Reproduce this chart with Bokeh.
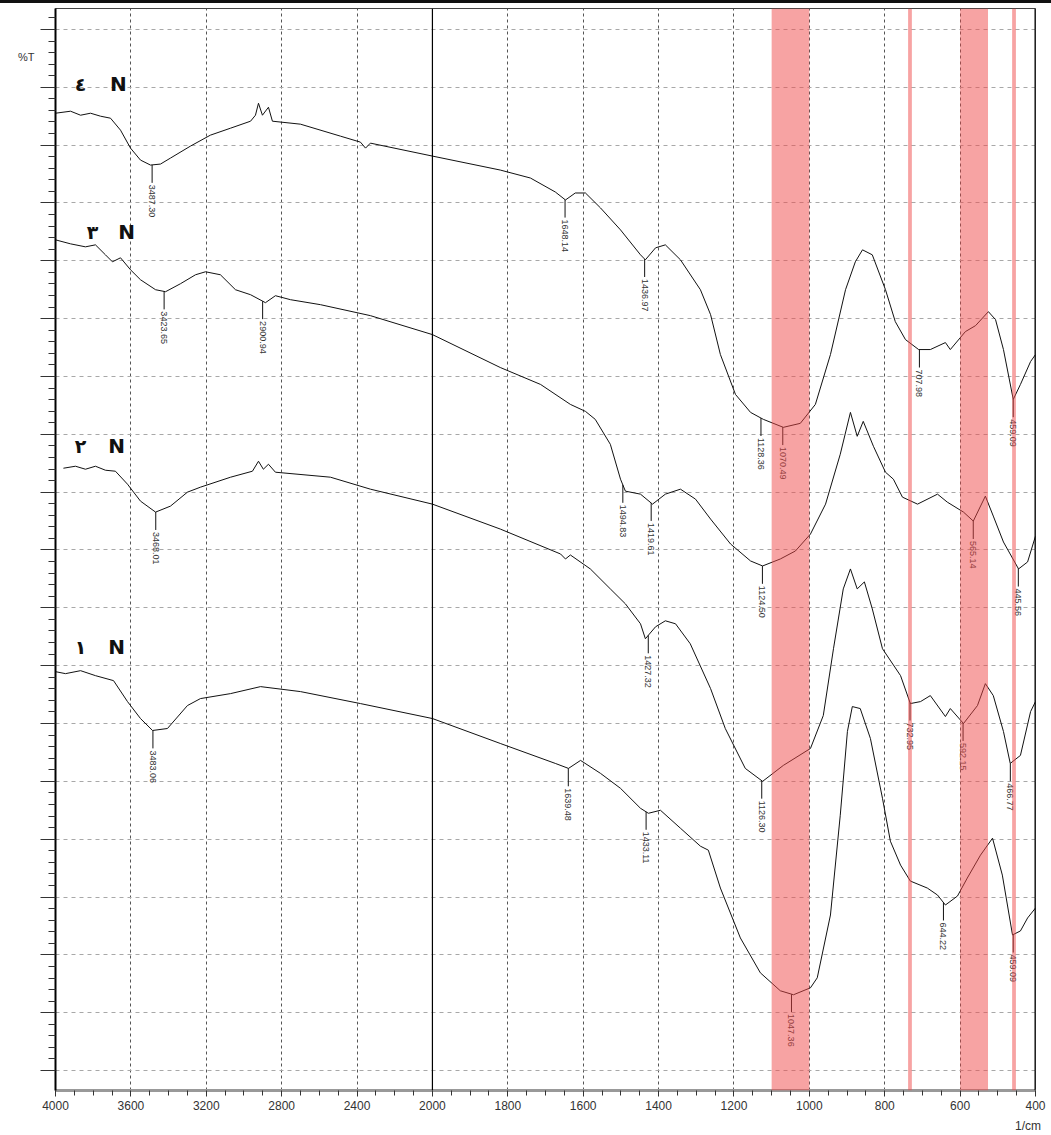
import numpy as np
from bokeh.plotting import figure
from bokeh.models import Range1d, FixedTicker, BoxAnnotation, Span, ColumnDataSource, Div, LinearAxis
from bokeh.layouts import column
from bokeh.embed import file_html
from bokeh.resources import INLINE
from bokeh.core.properties import value

# ---------------- data (wavenumber in 1/cm, %T in arbitrary offset units) ----------------
wn4 = [4000, 3920, 3867, 3814, 3761, 3708, 3655, 3602, 3549, 3496, 3443, 3390, 3284, 3178, 3071, 2965, 2939, 2923,
       2902, 2870, 2849, 2700, 2488, 2382, 2355, 2329, 2000, 1820, 1740, 1674, 1647, 1621, 1594, 1554, 1501, 1448,
       1435, 1408, 1382, 1342, 1289, 1262, 1236, 1196, 1156, 1122, 1069, 1024, 984, 944, 904, 878, 859, 833,
       798, 772, 745, 710, 679, 639, 626, 586, 559, 525, 506, 485, 459, 440, 413, 400]
t4 = [98.0, 98.2, 97.8, 98.0, 97.7, 97.5, 96.3, 94.5, 93.3, 92.8, 92.9, 93.5, 94.7, 95.8, 96.5, 97.2, 97.8, 99.0,
      97.8, 98.6, 97.2, 96.9, 95.7, 95.1, 94.5, 95.0, 93.7, 92.3, 91.5, 90.1, 89.3, 90.0, 90.0, 88.5, 86.3, 83.8,
      83.3, 84.5, 84.8, 83.3, 80.3, 77.8, 73.8, 69.8, 68.0, 67.3, 66.5, 66.9, 68.8, 73.8, 80.3, 83.1, 84.3, 83.8,
      80.3, 77.1, 75.3, 74.3, 74.3, 75.0, 74.3, 76.1, 76.7, 78.1, 77.3, 74.3, 69.3, 70.8, 73.1, 73.8]

wn3 = [4000, 3920, 3841, 3788, 3735, 3698, 3655, 3602, 3549, 3469, 3416, 3337, 3257, 3204, 3125, 3045, 2965, 2886,
       2833, 2753, 2594, 2329, 2000, 1820, 1713, 1634, 1594, 1568, 1528, 1501, 1488, 1448, 1416, 1382, 1342, 1302,
       1262, 1209, 1156, 1124, 1077, 1037, 997, 957, 918, 891, 873, 857, 830, 798, 777, 753, 713, 660,
       634, 591, 565, 533, 512, 485, 445, 421, 400]
t3 = [85.3, 84.9, 84.6, 84.8, 83.8, 83.1, 83.5, 82.3, 81.3, 80.3, 80.1, 80.9, 81.8, 82.1, 81.8, 80.3, 79.8, 79.0,
      79.7, 79.3, 78.8, 77.7, 75.8, 72.5, 70.8, 68.8, 68.1, 67.3, 64.8, 61.3, 60.1, 59.8, 58.8, 59.8, 60.3, 59.3,
      57.3, 54.8, 53.1, 52.6, 53.3, 54.1, 55.8, 58.8, 63.8, 68.0, 65.6, 67.1, 64.6, 62.0, 61.3, 59.5, 58.8, 59.8,
      59.0, 58.0, 57.1, 59.6, 57.6, 55.0, 52.3, 53.0, 55.6]

wn2 = [3958, 3894, 3841, 3788, 3735, 3682, 3618, 3549, 3469, 3390, 3300, 3231, 3071, 2955, 2923, 2897, 2870, 2833,
       2541, 2329, 2000, 1820, 1660, 1647, 1634, 1581, 1528, 1488, 1448, 1435, 1408, 1382, 1355, 1316, 1262, 1223,
       1170, 1124, 1069, 997, 963, 936, 910, 891, 873, 854, 833, 806, 758, 732, 705, 679, 639, 626,
       591, 554, 533, 512, 485, 467, 440, 413, 400]
t2 = [62.4, 62.6, 62.3, 62.6, 62.2, 62.1, 60.8, 59.1, 58.0, 58.6, 60.0, 60.5, 61.5, 62.1, 63.1, 62.3, 62.8, 62.0,
      61.5, 60.3, 58.8, 56.3, 53.8, 53.3, 53.7, 52.3, 50.3, 48.8, 46.8, 45.3, 46.5, 47.1, 46.8, 44.8, 40.3, 36.3,
      32.3, 31.0, 32.6, 34.3, 37.6, 44.3, 50.3, 52.3, 50.3, 51.0, 48.3, 44.3, 41.6, 38.8, 39.0, 39.6, 37.5, 38.3,
      36.8, 38.6, 40.8, 39.6, 36.0, 32.8, 33.6, 38.0, 39.0]

wn1 = [4000, 3947, 3867, 3788, 3692, 3618, 3549, 3485, 3406, 3300, 3231, 3071, 2912, 2700, 2382, 2000, 1820, 1674,
       1639, 1607, 1554, 1501, 1448, 1427, 1395, 1342, 1289, 1268, 1236, 1183, 1130, 1077, 1042, 997, 979, 944,
       918, 899, 886, 865, 838, 806, 785, 758, 732, 687, 660, 639, 607, 581, 546, 514, 488, 461,
       440, 421, 400]
t1 = [42.0, 41.8, 42.1, 41.6, 41.1, 39.0, 37.3, 36.1, 36.3, 38.6, 39.3, 39.8, 40.5, 40.0, 38.8, 37.3, 34.8, 32.8,
      32.3, 33.1, 31.8, 30.3, 28.3, 27.8, 28.1, 26.3, 24.5, 24.1, 20.3, 15.3, 11.8, 10.0, 9.6, 10.3, 11.3, 17.6,
      27.6, 36.0, 38.5, 38.3, 35.3, 29.3, 25.0, 22.6, 21.0, 20.3, 19.6, 18.6, 19.5, 21.3, 23.6, 25.3, 21.6, 15.6,
      16.0, 17.3, 18.3]

pk4 = [3487.30, 1648.14, 1436.97, 1128.36, 1070.49, 707.98, 459.09]
pk3 = [3423.65, 2900.94, 1494.83, 1419.61, 1124.50, 565.14, 445.56]
pk2 = [3468.01, 1427.32, 1126.30, 732.95, 592.15, 466.77]
pk1 = [3483.06, 1639.48, 1433.11, 1047.36, 644.22, 459.09]

series_numerals = ["\u0664", "\u0663", "\u0662", "\u0661"]
numeral_wn = [3867, 3804, 3867, 3867]
letter_wn = [3666, 3623, 3676, 3676]
series_label_t = [100.9, 86.1, 64.6, 44.5]

band_ranges = [(1100, 1000), (738, 728), (600, 526), (462, 452)]

xtick_wn = [4000, 3600, 3200, 2800, 2400, 2000, 1800, 1600, 1400, 1200, 1000, 800, 600, 400]
xtick_labels = ["4000", "3600", "3200", "2800", "2400", "2000", "1800", "1600", "1400", "1200", "1000", "800", "600", "400"]
x_unit_wn = 420
x_unit_label = "1/cm"
y_unit_t = 103.6
y_unit_label = "%T"


# ---------------- scale: 4000-2000 compressed, 2000-400 expanded (instrument's split axis) ----------------
def wu(w):
    w = np.asarray(w, dtype=float)
    return np.where(w >= 2000, (4000 - w) / 400.0, 5 + (2000 - w) / 200.0)


p = figure(width=1051, height=1132, x_range=Range1d(0, 13), y_range=Range1d(0, 108.5),
           output_backend="svg", toolbar_location=None,
           min_border_left=55, min_border_right=16, min_border_top=5, min_border_bottom=42)
p.background_fill_color = "white"
p.border_fill_color = "white"
p.outline_line_color = "#444"
p.outline_line_width = 1

# x axis
xmaj = [float(v) for v in wu(xtick_wn)]
xmin = [m + f for m in xmaj[:-1] for f in (0.25, 0.5, 0.75)]
p.xaxis.ticker = FixedTicker(ticks=xmaj, minor_ticks=xmin)
p.xaxis.major_label_overrides = {m: lab for m, lab in zip(xmaj, xtick_labels)}
p.xaxis.axis_line_color = "#999"
p.xaxis.axis_line_width = 3
p.xaxis.major_tick_in = 0
p.xaxis.major_tick_out = 6
p.xaxis.minor_tick_in = 0
p.xaxis.minor_tick_out = 5
p.xaxis.major_tick_line_color = "#333"
p.xaxis.minor_tick_line_color = "#333"
p.xaxis.major_label_text_font = "Liberation Sans"
p.xaxis.major_label_text_font_size = "12px"
p.xaxis.major_label_text_color = "#333"
p.xaxis.major_label_standoff = 4

# unit caption below the tick labels (as a tickless axis)
ux = float(wu(x_unit_wn))
xunit_axis = LinearAxis(ticker=FixedTicker(ticks=[ux], minor_ticks=[]),
                        major_label_overrides={ux: x_unit_label},
                        axis_line_color=None, major_tick_line_color=None, minor_tick_line_color=None,
                        major_label_standoff=0, major_label_text_font="Liberation Sans",
                        major_label_text_font_size="12px", major_label_text_color="#333")
p.add_layout(xunit_axis, "below")

# y axis
ymaj = [round(2.0 + 5.8 * i, 2) for i in range(19)]
ymin = [round(v + 1.16 * k, 3) for v in ymaj[:-1] for k in (1, 2, 3, 4)] + [round(ymaj[-1] + 1.16, 3)]
p.yaxis.ticker = FixedTicker(ticks=ymaj, minor_ticks=ymin)
p.yaxis.major_label_overrides = {v: "" for v in ymaj}
p.yaxis.axis_line_color = "black"
p.yaxis.axis_line_width = 2
p.yaxis.major_tick_in = 0
p.yaxis.major_tick_out = 15
p.yaxis.minor_tick_in = 0
p.yaxis.minor_tick_out = 7
p.yaxis.major_tick_line_color = "#333"
p.yaxis.minor_tick_line_color = "#333"
p.yaxis.major_label_standoff = 4

yunit_axis = LinearAxis(ticker=FixedTicker(ticks=[y_unit_t], minor_ticks=[]),
                        major_label_overrides={y_unit_t: y_unit_label},
                        axis_line_color=None, major_tick_line_color=None, minor_tick_line_color=None,
                        major_label_standoff=0, major_label_text_font="Liberation Sans",
                        major_label_text_font_size="11px", major_label_text_color="#333")
p.add_layout(yunit_axis, "left")

# grids
p.xgrid.grid_line_color = "#555"
p.xgrid.grid_line_dash = "3 3"
p.xgrid.grid_line_width = 1
p.ygrid.grid_line_color = "#a8a8a8"
p.ygrid.grid_line_dash = "4 4"
p.ygrid.grid_line_width = 1

p.add_layout(Span(location=float(wu(2000)), dimension="height", line_color="black", line_width=1.2))
p.add_layout(Span(location=13, dimension="height", line_color="black", line_width=2))

# spectra
for wn, tt in ((wn4, t4), (wn3, t3), (wn2, t2), (wn1, t1)):
    p.line(wu(wn), tt, line_color="#111", line_width=1)

# peak markers and labels
for wn, tt, pk in ((wn4, t4, pk4), (wn3, t3, pk3), (wn2, t2, pk2), (wn1, t1, pk1)):
    uu = wu(wn)
    pu = wu(pk)
    pt = np.interp(pu, uu, tt)
    src = ColumnDataSource(dict(x=pu, y0=pt, y1=pt - 1.8, ty=pt - 2.0, lab=["%.2f" % v for v in pk]))
    p.segment(x0="x", y0="y0", x1="x", y1="y1", source=src, line_color="#111", line_width=1)
    p.text(x="x", y="ty", text="lab", source=src, angle=-np.pi / 2, text_align="left",
           text_baseline="middle", text_font=value("Liberation Sans"), text_font_size="9px",
           text_color="#333")

# series labels
p.text(x=wu(numeral_wn), y=series_label_t, text=series_numerals, text_font=value("DejaVu Sans"),
       text_font_style="bold", text_font_size="19px", text_align="center", text_baseline="middle",
       text_color="#111")
p.text(x=wu(letter_wn), y=series_label_t, text=["N"] * 4, text_font=value("DejaVu Sans"),
       text_font_style="bold", text_font_size="20px", text_align="center", text_baseline="middle",
       text_color="#111")

# highlighted bands
for hi, lo in band_ranges:
    p.add_layout(BoxAnnotation(left=float(wu(hi)), right=float(wu(lo)), fill_color="#F04848",
                               fill_alpha=0.5, line_alpha=0))

top_rule = Div(text="", width=1051, height=3, styles={"background-color": "#111"}, margin=0)
layout = column(top_rule, p, spacing=0)

open("out.html", "w").write(file_html(layout, INLINE))
